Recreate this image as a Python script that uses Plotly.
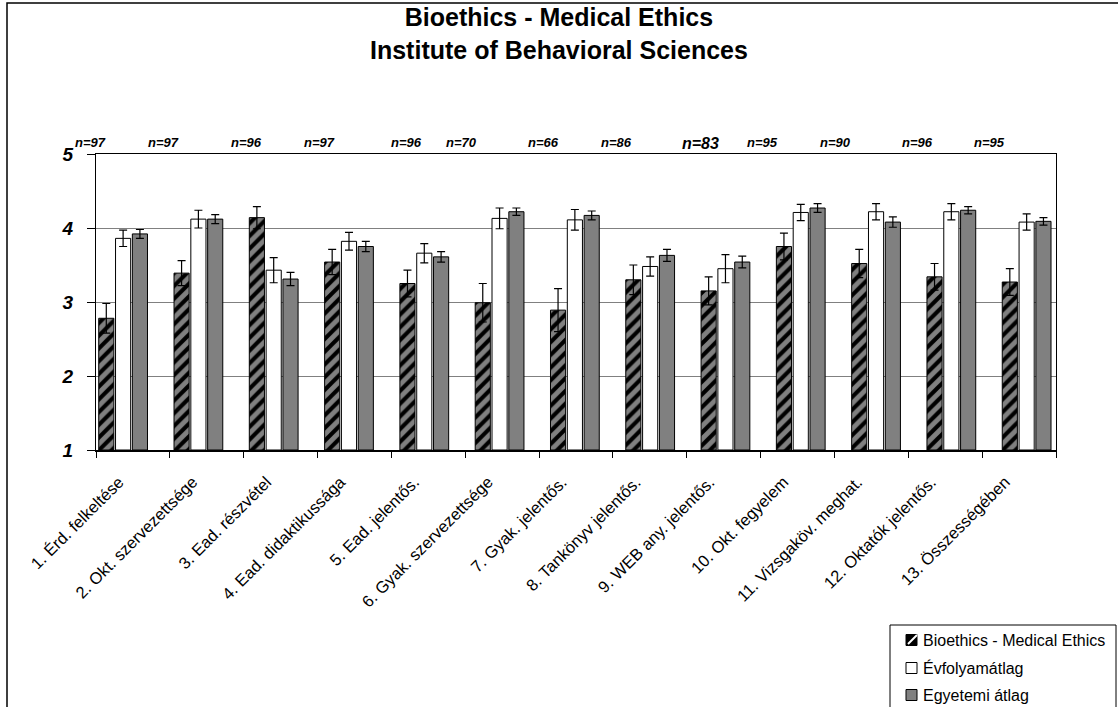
import plotly.graph_objects as go

categories = ["1. Érd. felkeltése", "2. Okt. szervezettsége", "3. Ead. részvétel",
              "4. Ead. didaktikussága", "5. Ead. jelentős.", "6. Gyak. szervezettsége",
              "7. Gyak. jelentős.", "8. Tankönyv jelentős.", "9. WEB any. jelentős.",
              "10. Okt. fegyelem", "11. Vizsgaköv. meghat.", "12. Oktatók jelentős.",
              "13. Összességében"]
n_labels = ["n=97", "n=97", "n=96", "n=97", "n=96", "n=70", "n=66",
            "n=86", "n=83", "n=95", "n=90", "n=96", "n=95"]

series_names = ["Bioethics - Medical Ethics", "Évfolyamátlag", "Egyetemi átlag"]
bio = [2.78, 3.39, 4.14, 3.54, 3.25, 2.99, 2.89, 3.30, 3.15, 3.75, 3.52, 3.34, 3.27]
bio_err = [0.20, 0.17, 0.15, 0.17, 0.18, 0.26, 0.29, 0.20, 0.19, 0.18, 0.19, 0.18, 0.18]
evf = [3.86, 4.12, 3.43, 3.82, 3.66, 4.13, 4.11, 3.48, 3.45, 4.21, 4.22, 4.22, 4.08]
evf_err = [0.11, 0.12, 0.17, 0.12, 0.13, 0.14, 0.14, 0.13, 0.19, 0.11, 0.11, 0.11, 0.11]
egy = [3.92, 4.12, 3.31, 3.75, 3.61, 4.22, 4.17, 3.63, 3.54, 4.27, 4.08, 4.24, 4.09]
egy_err = [0.06, 0.06, 0.09, 0.07, 0.07, 0.05, 0.06, 0.08, 0.08, 0.06, 0.07, 0.05, 0.05]

y_ticks = [1, 2, 3, 4, 5]
title_text = "Bioethics - Medical Ethics<br>Institute of Behavioral Sciences"

# layout constants (pixels)
W, H = 1118, 707
L, R, T, B = 96, 62, 154, 257
n_label_px = [73, 146, 229, 302, 389, 461, 543, 616, 700, 780, 853, 935, 1007]
n_label_size = [13, 13, 13, 13, 13, 13, 13, 13, 16, 13, 13, 13, 13]
legend_rows_py = [640, 668, 695]

FONT = "Liberation Sans, Arial, sans-serif"
pw, ph = W - L - R, H - T - B


def px2x(px):
    return (px - L) / pw


def py2y(py):
    return (H - B - py) / ph


idx = list(range(len(categories)))
err_style = dict(type="data", color="black", thickness=1.2, width=4, visible=True)
hatch = dict(shape="/", fgcolor="white", bgcolor="black", size=9, solidity=0.55)
fills = ["black", "white", "#808080"]

fig = go.Figure()
for name, vals, errs, col in zip(series_names, [bio, evf, egy],
                                 [bio_err, evf_err, egy_err], fills):
    marker = dict(color=col, line=dict(color="black", width=1))
    if name == series_names[0]:
        marker["pattern"] = hatch
    fig.add_trace(go.Bar(name=name, x=idx, y=[v - 1 for v in vals], base=1,
                         marker=marker, error_y=dict(array=errs, **err_style)))

# invisible trace to carry the category labels on the second x axis
fig.add_trace(go.Scatter(x=categories, y=[None] * len(categories), xaxis="x2",
                         mode="markers", showlegend=False, hoverinfo="skip"))

for i, t in enumerate(n_labels):
    fig.add_annotation(x=px2x(n_label_px[i]), y=py2y(133), xref="paper", yref="paper",
                       text=t, showarrow=False,
                       font=dict(family=FONT, size=n_label_size[i], color="black",
                                 weight="bold", style="italic"))

# chart title (two lines)
fig.add_annotation(x=px2x(559), y=py2y(33), xref="paper", yref="paper",
                   xanchor="center", yanchor="middle", text="<b>%s</b>" % title_text,
                   showarrow=False, font=dict(family=FONT, size=25, color="black"))

# outer chart frame
fig.add_shape(type="rect", xref="paper", yref="paper",
              x0=px2x(7), x1=px2x(1130), y0=py2y(720), y1=py2y(3),
              line=dict(color="black", width=1.5), fillcolor="rgba(0,0,0,0)", layer="below")

# legend box (drawn by hand so that it runs off the bottom edge like the original)
fig.add_shape(type="rect", xref="paper", yref="paper",
              x0=px2x(890), x1=px2x(1116), y0=py2y(740), y1=py2y(625),
              line=dict(color="black", width=1), fillcolor="white")
for name, col, py in zip(series_names, fills, legend_rows_py):
    fig.add_shape(type="rect", xref="paper", yref="paper",
                  x0=px2x(906), x1=px2x(917), y0=py2y(py + 5.5), y1=py2y(py - 5.5),
                  line=dict(color="black", width=1), fillcolor=col)
    if name == series_names[0]:
        fig.add_shape(type="line", xref="paper", yref="paper",
                      x0=px2x(908), x1=px2x(917), y0=py2y(py + 4), y1=py2y(py - 5),
                      line=dict(color="white", width=2))
    fig.add_annotation(x=px2x(921), y=py2y(py), xref="paper", yref="paper",
                       xanchor="left", yanchor="middle", text=name, showarrow=False,
                       font=dict(family=FONT, size=16, color="black"))

fig.update_layout(
    width=W, height=H,
    margin=dict(l=L, r=R, t=T, b=B, pad=0),
    paper_bgcolor="white", plot_bgcolor="white",
    font=dict(family=FONT, color="black"),
    barmode="group", bargap=0.33, bargroupgap=0.1,
    showlegend=False,
    xaxis=dict(range=[-0.36, 12.39], showticklabels=False, ticks="",
               showgrid=False, zeroline=False, showline=True, linecolor="black",
               linewidth=1, mirror=True, fixedrange=True),
    xaxis2=dict(type="category", categoryorder="array", categoryarray=categories,
                overlaying="x", anchor="y", side="bottom",
                range=[-0.5, len(categories) - 0.5],
                tickson="boundaries", ticks="outside", ticklen=6, tickcolor="black",
                tickangle=-45, showgrid=False, showline=True, linecolor="black",
                linewidth=2, ticklabelstandoff=14, ticklabelshift=-14,
                tickfont=dict(family=FONT, size=16.5, color="black")),
    yaxis=dict(range=[1, 5], tickvals=y_ticks, ticks="outside", ticklen=8,
               tickcolor="black", showline=True, linecolor="black", linewidth=1,
               mirror=True, showgrid=True, gridcolor="#808080", gridwidth=1,
               zeroline=False, ticklabelstandoff=10,
               tickfont=dict(family=FONT, size=19, color="black",
                             weight="bold", style="italic")),
)

fig.write_html("out.html", config={"displayModeBar": False},
               post_script="document.body.style.margin='0';")
